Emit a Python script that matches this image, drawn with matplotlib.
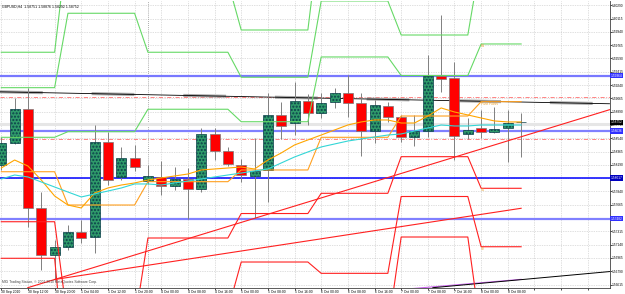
import numpy as np
import matplotlib.pyplot as plt
from matplotlib.transforms import blended_transform_factory

plt.rcParams['font.family'] = ['Liberation Sans', 'DejaVu Sans']

# GBPUSD H4, 30 Sep 2010 04:00 .. 8 Oct 2010 12:00
opens = [1.58189, 1.58482, 1.58922, 1.57619, 1.57004, 1.57110, 1.57311, 1.57241, 1.58495, 1.58035,
         1.58277, 1.57978, 1.58035, 1.57912, 1.58000, 1.57869, 1.58597, 1.58377, 1.58189, 1.58044,
         1.58123, 1.58847, 1.58737, 1.59035, 1.58869, 1.59014, 1.59132, 1.59009, 1.58640, 1.58965,
         1.58816, 1.58553, 1.58640, 1.59360, 1.59330, 1.58597, 1.58672, 1.58627, 1.58672, 1.58751]
highs = [1.58557, 1.59066, 1.59198, 1.57837, 1.57202, 1.57399, 1.57465, 1.58715, 1.58627, 1.58429,
         1.58452, 1.58189, 1.58241, 1.58162, 1.58149, 1.58672, 1.58676, 1.58422, 1.58264, 1.58540,
         1.59132, 1.59022, 1.59285, 1.59119, 1.59132, 1.59198, 1.59373, 1.59132, 1.59044, 1.59022,
         1.58847, 1.58847, 1.59636, 1.60163, 1.59544, 1.58803, 1.58912, 1.58956, 1.58912, 1.58876]
lows = [1.58123, 1.58465, 1.57377, 1.56807, 1.56682, 1.57070, 1.57162, 1.57031, 1.57925, 1.57991,
        1.58114, 1.57939, 1.57794, 1.57860, 1.57474, 1.57833, 1.58254, 1.58175, 1.57969, 1.57487,
        1.57706, 1.58527, 1.58583, 1.58715, 1.58803, 1.58935, 1.58824, 1.58307, 1.58474, 1.58758,
        1.58495, 1.58439, 1.58553, 1.59153, 1.58254, 1.58527, 1.58540, 1.58610, 1.58232, 1.58292]
closes = [1.58482, 1.58922, 1.57619, 1.57004, 1.57113, 1.57311, 1.57224, 1.58495, 1.57991, 1.58277,
          1.58166, 1.58044, 1.57912, 1.58000, 1.57869, 1.58597, 1.58377, 1.58202, 1.58057, 1.58114,
          1.58847, 1.58706, 1.59035, 1.58869, 1.59009, 1.59132, 1.59001, 1.58640, 1.58978, 1.58816,
          1.58553, 1.58640, 1.59360, 1.59316, 1.58570, 1.58649, 1.58627, 1.58658, 1.58745, 1.58752]

time_labels = ["30 Sep 2010", "30 Sep 12:00", "30 Sep 20:00", "1 Oct 04:00", "1 Oct 12:00",
               "1 Oct 20:00", "4 Oct 00:00", "4 Oct 08:00", "4 Oct 16:00", "5 Oct 00:00",
               "5 Oct 08:00", "5 Oct 16:00", "6 Oct 00:00", "6 Oct 08:00", "6 Oct 16:00",
               "7 Oct 00:00", "7 Oct 08:00", "7 Oct 16:00", "8 Oct 00:00", "8 Oct 08:00"]

# daily pivot levels, one value per trading day
day_bars = [5, 6, 1, 6, 6, 6, 6, 4]
pivot = [1.58100, 1.57662, 1.57969, 1.57969, 1.58123, 1.58553, 1.58833, 1.59022]
r1 = [1.58553, 1.58627, 1.58922, 1.58922, 1.58758, 1.59610, 1.59366, 1.59781]
r2 = [1.59206, 1.60185, 1.59672, 1.59672, 1.59343, 1.60347, 1.59899, 1.60926]
r3 = [1.59672, 1.61150, 1.60597, 1.60597, 1.59965, 1.61400, 1.60426, 1.61676]
s1 = [1.57442, 1.56109, 1.57228, 1.57228, 1.57550, 1.57816, 1.58298, 1.57882]
s2 = [1.56961, 1.55136, 1.56280, 1.56280, 1.56912, 1.56763, 1.57774, 1.57113]
s3 = [1.56342, 1.54043, 1.55544, 1.55544, 1.56359, 1.56017, 1.57241, 1.55978]

ma_orange = [1.58149, 1.58254, 1.58175, 1.57991, 1.57781, 1.57662, 1.57623, 1.57820, 1.57886, 1.57925,
             1.57952, 1.57991, 1.58018, 1.58044, 1.58070, 1.58123, 1.58136, 1.58149, 1.58162, 1.58136,
             1.58254, 1.58347, 1.58452, 1.58518, 1.58583, 1.58649, 1.58715, 1.58755, 1.58781, 1.58781,
             1.58741, 1.58741, 1.58833, 1.58939, 1.58886, 1.58847, 1.58807, 1.58768, 1.58755, 1.58755]
ma_cyan = [1.58004, 1.58057, 1.58031, 1.57965, 1.57899, 1.57833, 1.57768, 1.57807, 1.57846, 1.57886,
           1.57939, 1.57939, 1.57925, 1.57952, 1.57978, 1.58004, 1.58031, 1.58057, 1.58083, 1.58110,
           1.58136, 1.58215, 1.58294, 1.58360, 1.58426, 1.58465, 1.58504, 1.58531, 1.58557, 1.58583,
           1.58597, 1.58636, 1.58676, 1.58715, 1.58702, 1.58702, 1.58715, 1.58715, 1.58715, 1.58715]

blue_levels = [1.59364, 1.58636, 1.58017, 1.57482]
dashdot_levels = [1.59087, 1.58527]
bid_level = 1.58730

# trend lines, (bar, price) anchors
black_trend = [(0, 1.59151), (44, 1.59000)]
red_steep = [(4, 1.56682), (39, 1.58560)]
red_flat = [(4, 1.56682), (39, 1.57619)]
purple_line = [(30, 1.56550), (39, 1.56684)]
black_low = [(36, 1.56632), (43, 1.56744)]

n = len(opens)
x = np.arange(n)
opens, highs, lows, closes = map(np.array, (opens, highs, lows, closes))

fig = plt.figure(figsize=(6.25, 2.94), dpi=100)
fig.patch.set_facecolor('white')
ax = fig.add_axes([0, 6.3 / 294, 609.5 / 625, 287.2 / 294])
ax.set_xlim(-0.0975, 45.63)
ax.set_ylim(1.56574, 1.60353)

# price scale
yt = 1.56615 + 0.00175 * np.arange(22)
ax.yaxis.tick_right()
ax.set_yticks(yt)
ax.set_yticklabels([f"{v:.5f}" for v in yt])
ax.set_xticks(np.arange(0, 46, 2))
ax.set_xticklabels(time_labels + [""] * 3, ha='left')
ax.tick_params(axis='y', labelsize=2.3, length=1.2, width=0.5, pad=0.6)
ax.tick_params(axis='x', labelsize=2.4, length=1.2, width=0.5, pad=0.6)
ax.grid(True, color='#c0c0c0', linestyle=(0, (1, 1.5)), linewidth=0.5)
ax.set_axisbelow(True)
for side in ['top', 'left']:
    ax.spines[side].set_visible(False)
for side in ['right', 'bottom']:
    ax.spines[side].set_linewidth(0.6)
    ax.spines[side].set_color('#404040')

# weekly separator
ax.axvline(11, color='#909090', linestyle=(0, (1, 1.5)), linewidth=0.6, zorder=1)

# horizontal levels
ax.axhline(bid_level, color='#e6e6e6', linewidth=2.2, zorder=1.2)
for lvl in dashdot_levels:
    ax.axhline(lvl, color='#ff7070', linewidth=0.6, dashes=(5, 2, 1, 2), zorder=1.5)
lw_blue = [1.6, 1.6, 1.1, 1.6]
col_blue = ['#7878ff', '#8080ff', '#0000ff', '#8080ff']
for lvl, c, w in zip(blue_levels, col_blue, lw_blue):
    ax.axhline(lvl, color=c, linewidth=w, zorder=1.5)

# trend lines
ax.axline(*black_trend, color='#a8a8a8', linewidth=2.2, dashes=(14, 16), zorder=1.6)
ax.axline(*black_trend, color='black', linewidth=0.6, zorder=1.7)
ax.axline(*red_steep, color='#ff2020', linewidth=0.8, zorder=3)
ax.plot(*zip(*red_flat), color='#ff2020', linewidth=0.8, zorder=3)
ax.plot(*zip(*purple_line), color='#cc66ee', linewidth=0.8, zorder=3)
ax.axline(*black_low, color='black', linewidth=0.7, zorder=3)

# candles
up = closes >= opens
ax.vlines(x, lows, highs, color='#808080', linewidth=0.7, zorder=2)
ax.bar(x[up], (closes - opens)[up], bottom=opens[up], width=0.75, color='#2f9a6a',
       edgecolor='#0b3f4a', linewidth=0.5, hatch='.....', zorder=2.2)
ax.bar(x[~up], (opens - closes)[~up], bottom=closes[~up], width=0.75, color='#ff0000',
       edgecolor='#7a7a7a', linewidth=0.5, zorder=2.2)

# pivot levels
for lv, col in [(r3, '#66d966'), (r2, '#66d966'), (r1, '#66d966'),
                (s1, '#ff2020'), (s2, '#ff2020'), (s3, '#ff2020'), (pivot, '#ffa020')]:
    ax.plot(x, np.repeat(lv, day_bars), color=col, linewidth=0.8, zorder=3)

# moving averages
ax.plot(x, ma_orange, color='#ffa500', linewidth=0.8, zorder=3.1)
ax.plot(x, ma_cyan, color='#33d6d6', linewidth=0.8, zorder=3.1)

# level captions
last = n - day_bars[-1]
lab_col = '#e8a030'
ax.text(last, pivot[-1], 'Pivot Points', fontsize=2.3, color=lab_col, va='top', zorder=4)
ax.text(last, r1[-1], 'R1', fontsize=2.3, color=lab_col, va='top', zorder=4)
ax.text(last, s1[-1], 'S1', fontsize=2.3, color=lab_col, va='top', zorder=4)
ax.text(last, s2[-1], 'S2', fontsize=2.3, color=lab_col, va='top', zorder=4)

# price markers on the scale
tr = blended_transform_factory(ax.transAxes, ax.transData)
box_col = ['#3030ff', '#3030ff', '#0000c0', '#3030ff']
for lvl, c in zip(blue_levels, box_col):
    ax.text(1.002, lvl, f"{lvl:.5f}", transform=tr, fontsize=2.3, color='white', va='center',
            ha='left', clip_on=False, zorder=5,
            bbox=dict(boxstyle='square,pad=0.2', fc=c, ec='none'))
ax.text(1.002, closes[-1], f"{closes[-1]:.5f}", transform=tr, fontsize=2.3, color='white',
        va='center', ha='left', clip_on=False, zorder=5,
        bbox=dict(boxstyle='square,pad=0.2', fc='black', ec='none'))

ax.text(0.003, 0.985, f"GBPUSD,H4  {opens[-1]:.5f} {highs[-1]:.5f} {lows[-1]:.5f} {closes[-1]:.5f}",
        transform=ax.transAxes, fontsize=2.5, va='top', ha='left', zorder=5)
ax.text(0.004, 0.012, "MIG Trading Station, \u00a9 2001-2010 MetaQuotes Software Corp.",
        transform=ax.transAxes, fontsize=2.4, color='#404040', va='bottom', ha='left', zorder=5)

fig.savefig('out.png', dpi=100, facecolor='white')
